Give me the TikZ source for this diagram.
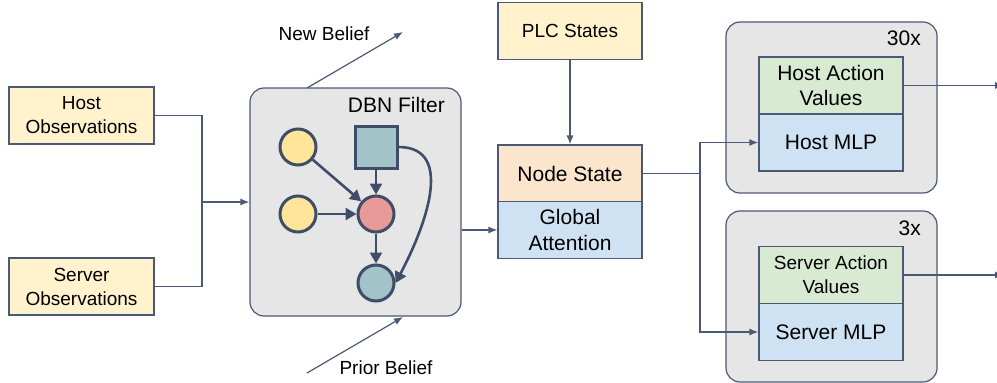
\documentclass[tikz,border=0pt]{standalone}
\usepackage{fontspec}
\setmainfont{Liberation Sans}
\usetikzlibrary{arrows.meta}

\definecolor{edgeblue}{HTML}{4B5A74}
\definecolor{darkslate}{HTML}{3F4D68}
\definecolor{obsyellow}{HTML}{FFF2CC}
\definecolor{stateorange}{HTML}{FCE5CD}
\definecolor{attnblue}{HTML}{CFE2F3}
\definecolor{valgreen}{HTML}{D9EAD3}
\definecolor{panelgray}{HTML}{E6E6E6}
\definecolor{varyellow}{HTML}{FFE599}
\definecolor{varpink}{HTML}{EA9999}
\definecolor{varteal}{HTML}{A2C4C9}

\tikzset{
  box/.style={draw=edgeblue, line width=1.2pt, minimum width=144pt, minimum height=57pt,
    inner sep=0pt, align=center, font=\fontsize{19}{24}\selectfont},
  bigbox/.style={box, font=\fontsize{21}{25.5}\selectfont},
  panel/.style={draw=edgeblue, line width=1.2pt, fill=panelgray, rounded corners=14pt,
    inner sep=0pt},
  tag/.style={inner sep=0pt, font=\fontsize{19}{24}\selectfont},
  bigtag/.style={inner sep=0pt, font=\fontsize{21}{25}\selectfont},
  var/.style={circle, draw=darkslate, line width=3pt, minimum size=36pt, inner sep=0pt},
  link/.style={draw=edgeblue, line width=1.2pt, -{Latex[length=9pt,width=7pt]}},
  dep/.style={draw=darkslate, line width=2.6pt, -{Triangle[length=11pt,width=12pt]}},
}

\begin{document}
\begin{tikzpicture}[x=1pt, y=-1pt]
  \useasboundingbox (0,0) rectangle (997,383);

  % observation inputs
  \node[box, fill=obsyellow, minimum width=145pt] (hostobs) at (81.5,115.5) {Host\\Observations};
  \node[box, fill=obsyellow, minimum width=145pt] (serverobs) at (81.5,286.5) {Server\\Observations};

  % DBN filter panel
  \node[panel, minimum width=211pt, minimum height=228pt] (dbn) at (355.5,202) {};
  \node[bigtag, anchor=east] (dbnlabel) at (445,105) {DBN Filter};
  \node[var, fill=varyellow] (obsa) at (298,147) {};
  \node[var, fill=varyellow] (obsb) at (298,214) {};
  \node[draw=darkslate, line width=3pt, fill=varteal, minimum size=42pt, inner sep=0pt] (act) at (376,147) {};
  \node[var, fill=varpink] (hidden) at (376,214) {};
  \node[var, fill=varteal] (next) at (376,283) {};
  \draw[dep] (obsa) -- (hidden);
  \draw[dep] (obsb) -- (hidden);
  \draw[dep] (act) -- (hidden);
  \draw[dep] (hidden) -- (next);
  \draw[dep] (act.east) to[out=0, in=62, looseness=1.1] (next.east);

  % beliefs
  \coordinate (nbstart) at (307,88);
  \coordinate (nbend) at (403,32);
  \coordinate (pbstart) at (307,373);
  \coordinate (pbend) at (403,317);
  \draw[link] (nbstart) -- (nbend);
  \draw[link] (pbstart) -- (pbend);
  \node[tag] (newbelief) at (324,34) {New Belief};
  \node[tag] (priorbelief) at (386,368) {Prior Belief};

  % observations into the filter
  \coordinate (obsjoin) at (202,202);
  \draw[edgeblue, line width=1.2pt] (hostobs.east) -| (obsjoin);
  \draw[edgeblue, line width=1.2pt] (serverobs.east) -| (obsjoin);
  \draw[link] (obsjoin) -- (dbn.west);

  % state encoder
  \node[box, fill=obsyellow] (plc) at (570,31) {PLC States};
  \node[bigbox, fill=stateorange] (nodestate) at (570,173.5) {Node State};
  \node[bigbox, fill=attnblue] (attn) at (570,230) {Global\\Attention};
  \draw[link] (plc) -- (nodestate);
  \draw[link] (dbn.east |- attn.west) -- (attn.west);

  % action heads
  \node[panel, minimum width=211pt, minimum height=171pt] (hostpanel) at (831.5,107.5) {};
  \node[bigtag, anchor=east] (hostcount) at (921,38) {30x};
  \node[bigbox, fill=valgreen] (hostval) at (831,85.5) {Host Action\\Values};
  \node[bigbox, fill=attnblue] (hostmlp) at (831,142.5) {Host MLP};

  \node[panel, minimum width=211pt, minimum height=171pt] (serverpanel) at (831.5,296.5) {};
  \node[bigtag, anchor=east] (servercount) at (921,228) {3x};
  \node[box, fill=valgreen] (serverval) at (831,275) {Server Action\\Values};
  \node[bigbox, fill=attnblue] (servermlp) at (831,332) {Server MLP};

  \coordinate (split) at (700,173.5);
  \draw[edgeblue, line width=1.2pt] (nodestate.east) -- (split);
  \draw[link] (split) |- (hostmlp.west);
  \draw[link] (split) |- (servermlp.west);

  % outputs
  \coordinate (hostout) at (1004,85.5);
  \coordinate (serverout) at (1004,275);
  \draw[link] (hostval.east) -- (hostout);
  \draw[link] (serverval.east) -- (serverout);
\end{tikzpicture}
\end{document}
